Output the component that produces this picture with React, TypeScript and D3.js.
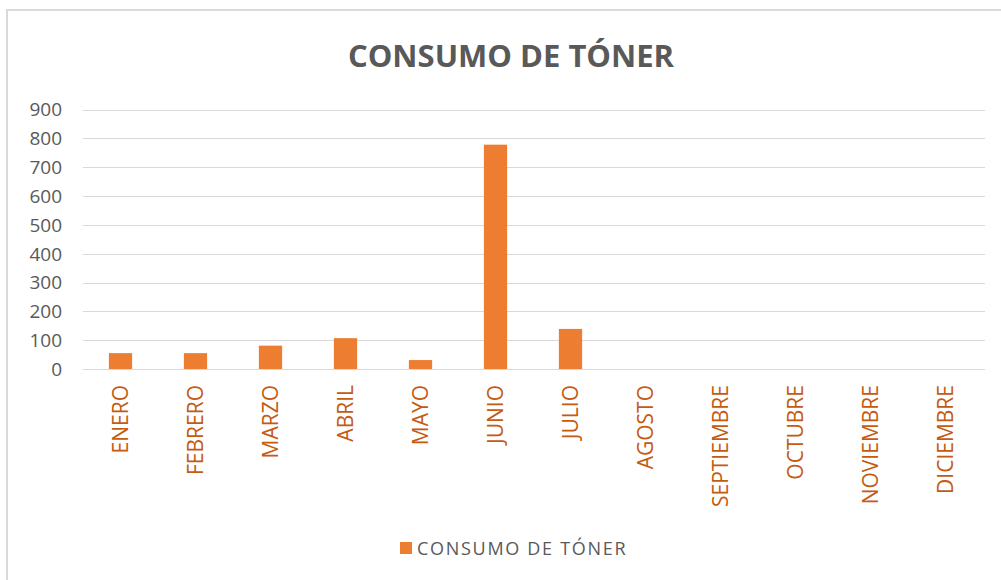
import { useEffect, useRef } from "react";
import * as d3 from "d3";

const MONTHS = [
  "ENERO",
  "FEBRERO",
  "MARZO",
  "ABRIL",
  "MAYO",
  "JUNIO",
  "JULIO",
  "AGOSTO",
  "SEPTIEMBRE",
  "OCTUBRE",
  "NOVIEMBRE",
  "DICIEMBRE",
];
const CONSUMO = [55, 55, 81, 107, 31, 778, 139, 0, 0, 0, 0, 0];
const Y_TICKS = [0, 100, 200, 300, 400, 500, 600, 700, 800, 900];
const TITLE = "CONSUMO DE TÓNER";
const SERIES = "CONSUMO DE TÓNER";

const W = 1001;
const H = 580;
const FONT = "'Open Sans', sans-serif";

export default function App() {
  const ref = useRef<SVGSVGElement | null>(null);

  useEffect(() => {
    const svg = d3.select(ref.current);
    svg.selectAll("*").remove();

    // chart frame (runs off the right/bottom edges like the screenshot)
    svg
      .append("rect")
      .attr("x", 7)
      .attr("y", 10)
      .attr("width", W + 20)
      .attr("height", H + 20)
      .attr("fill", "#fff")
      .attr("stroke", "#d9d9d9")
      .attr("stroke-width", 2);

    svg
      .append("text")
      .attr("x", 511)
      .attr("y", 67)
      .attr("text-anchor", "middle")
      .attr("font-family", FONT)
      .attr("font-weight", 700)
      .attr("font-size", 31)
      .attr("fill", "#595959")
      .text(TITLE);

    const x = d3
      .scaleBand<string>()
      .domain(MONTHS)
      .range([83, 983])
      .paddingInner(0.69)
      .paddingOuter(0.345);
    const y = d3.scaleLinear().domain([0, 900]).range([369, 109.5]);

    // gridlines
    svg
      .append("g")
      .selectAll("line")
      .data(Y_TICKS)
      .join("line")
      .attr("x1", 83)
      .attr("x2", 985)
      .attr("y1", (d) => Math.round(y(d)) + 0.5)
      .attr("y2", (d) => Math.round(y(d)) + 0.5)
      .attr("stroke", "#d9d9d9")
      .attr("stroke-width", 1);

    // y labels
    svg
      .append("g")
      .selectAll("text")
      .data(Y_TICKS)
      .join("text")
      .attr("x", 62)
      .attr("y", (d) => y(d))
      .attr("dy", "0.36em")
      .attr("text-anchor", "end")
      .attr("font-family", FONT)
      .attr("font-size", 19)
      .attr("fill", "#595959")
      .text((d) => d);

    // bars
    svg
      .append("g")
      .selectAll("rect")
      .data(MONTHS.map((m, i) => ({ m, v: CONSUMO[i] })))
      .join("rect")
      .attr("x", (d) => x(d.m) ?? 0)
      .attr("y", (d) => y(d.v))
      .attr("width", x.bandwidth())
      .attr("height", (d) => y(0) - y(d.v))
      .attr("fill", "#ed7d31");

    // rotated month labels
    svg
      .append("g")
      .selectAll("text")
      .data(MONTHS)
      .join("text")
      .attr(
        "transform",
        (d) => `translate(${(x(d) ?? 0) + x.bandwidth() / 2},385) rotate(-90)`,
      )
      .attr("dy", "0.36em")
      .attr("text-anchor", "end")
      .attr("font-family", FONT)
      .attr("font-size", 21)
      .attr("fill", "#c55a11")
      .text((d) => d);

    // legend
    const lg = svg.append("g");
    lg.append("rect")
      .attr("x", 400)
      .attr("y", 542)
      .attr("width", 12)
      .attr("height", 12)
      .attr("fill", "#ed7d31");
    lg.append("text")
      .attr("x", 417)
      .attr("y", 555)
      .attr("font-family", FONT)
      .attr("font-size", 18)
      .attr("letter-spacing", 1.7)
      .attr("fill", "#595959")
      .text(SERIES);
  }, []);

  return (
    <svg
      ref={ref}
      width={W}
      height={H}
      style={{ position: "absolute", left: 0, top: 0, background: "#fff" }}
    />
  );
}
